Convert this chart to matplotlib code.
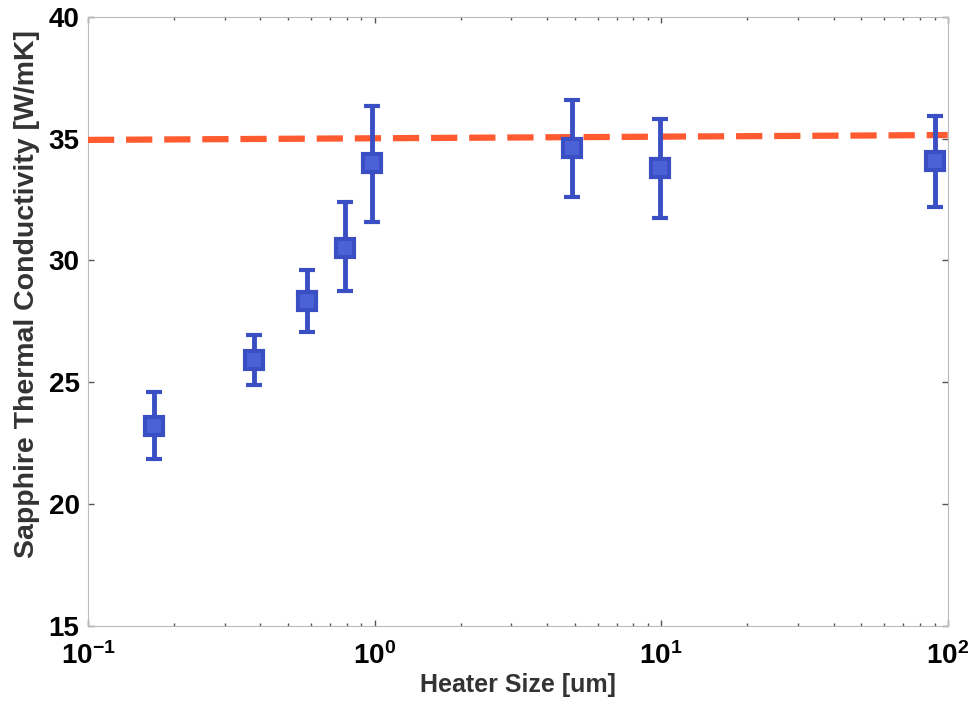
import matplotlib
matplotlib.use('Agg')
import matplotlib.pyplot as plt
import numpy as np

# heater sizes [um] and measured conductivity with error bars
heater_size = [0.17, 0.38, 0.58, 0.79, 0.98, 4.9, 9.9, 90.0]
k_meas = [23.2, 25.9, 28.35, 30.5, 34.0, 34.6, 33.8, 34.1]
k_err_low = [1.35, 1.0, 1.3, 1.75, 2.4, 2.0, 2.05, 1.9]
k_err_high = [1.4, 1.05, 1.25, 1.9, 2.35, 2.0, 2.0, 1.85]

# bulk reference line
ref_x = [0.1, 100.0]
ref_k = [34.95, 35.15]

plt.rcParams['font.family'] = ['Liberation Sans', 'DejaVu Sans']

fig = plt.figure(figsize=(9.77, 7.04), dpi=100)
ax = fig.add_axes([0.090, 0.111, 0.880, 0.865])

ax.plot(ref_x, ref_k, color='#ff5a30', lw=4.5, dashes=(4.2, 1.9), zorder=3)

ax.errorbar(heater_size, k_meas, yerr=[k_err_low, k_err_high], fmt='s',
            color='#3a4fc4', ecolor='#3a4fc4', elinewidth=3.5, capsize=6, capthick=3.5,
            markersize=13, mfc='#4a62d6', mec='#3a4fc4', mew=3, zorder=4)

ax.set_xscale('log')
ax.set_xlim(0.1, 100)
ax.set_ylim(15, 40)
ax.set_yticks([15, 20, 25, 30, 35, 40])

ax.tick_params(which='both', direction='in', top=True, right=True, color='#555555')
ax.tick_params(axis='y', which='major', length=4, width=1, labelsize=20, pad=6)
ax.tick_params(axis='x', which='major', length=4, width=1, labelsize=20, pad=12)
ax.tick_params(which='minor', length=2.5, width=1)
for lab in ax.get_xticklabels() + ax.get_yticklabels():
    lab.set_fontweight('bold')

for s in ax.spines.values():
    s.set_color('#bbbbbb')
    s.set_linewidth(0.8)

ax.set_xlabel('Heater Size [um]', fontsize=18, fontweight='bold', color='#333333', labelpad=2)
ax.set_ylabel('Sapphire Thermal Conductivity [W/mK]', fontsize=20.5, fontweight='bold',
              color='#333333')
ax.yaxis.set_label_coords(-0.056, 0.545)

fig.savefig('out.png', dpi=100)
